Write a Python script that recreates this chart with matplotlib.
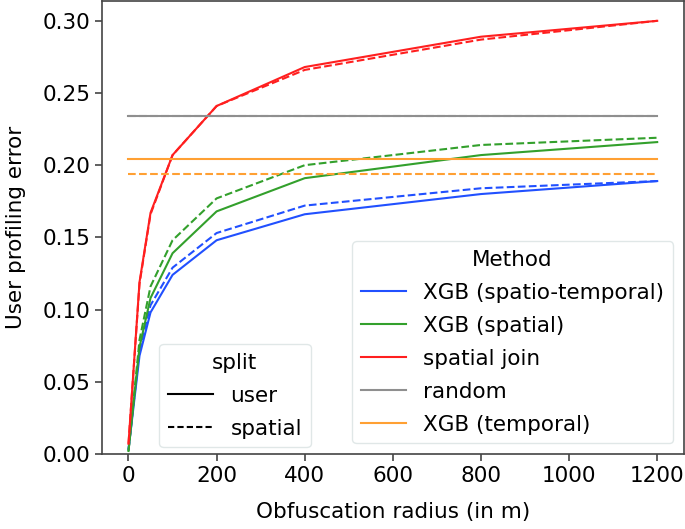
import numpy as np
import matplotlib
matplotlib.use("Agg")
import matplotlib.pyplot as plt
from matplotlib.lines import Line2D

BLUE = "#2150ff"; GREEN = "#33a02c"; RED = "#ff1f1f"; GREY = "#8f8f8f"; ORANGE = "#ffa033"

radius = [0, 25, 50, 100, 200, 400, 800, 1200]

# user split (solid) / spatial split (dashed)
xgb_st_user = [0.003, 0.068, 0.098, 0.124, 0.148, 0.166, 0.180, 0.189]
xgb_st_spatial = [0.003, 0.072, 0.103, 0.129, 0.153, 0.172, 0.184, 0.189]
xgb_sp_user = [0.002, 0.074, 0.108, 0.139, 0.168, 0.191, 0.207, 0.216]
xgb_sp_spatial = [0.002, 0.079, 0.116, 0.148, 0.177, 0.200, 0.214, 0.219]
sjoin_user = [0.007, 0.119, 0.167, 0.207, 0.241, 0.268, 0.289, 0.300]
sjoin_spatial = [0.007, 0.118, 0.166, 0.207, 0.241, 0.266, 0.287, 0.300]
random_user = [0.234] * 8
random_spatial = [0.234] * 8
xgb_t_user = [0.2045] * 8
xgb_t_spatial = [0.194] * 8

methods = ["XGB (spatio-temporal)", "XGB (spatial)", "spatial join", "random", "XGB (temporal)"]
colors = [BLUE, GREEN, RED, GREY, ORANGE]
user_vals = [xgb_st_user, xgb_sp_user, sjoin_user, random_user, xgb_t_user]
spatial_vals = [xgb_st_spatial, xgb_sp_spatial, sjoin_spatial, random_spatial, xgb_t_spatial]

FS = 15.5
plt.rcParams["font.family"] = "DejaVu Sans"
plt.rcParams["font.size"] = FS

fig, ax = plt.subplots(figsize=(6.85, 5.29), dpi=100)
fig.subplots_adjust(left=0.149, right=0.998, bottom=0.142, top=0.998)

for name, c, uv, sv in zip(methods, colors, user_vals, spatial_vals):
    ax.plot(radius, uv, color=c, lw=1.5, ls="-")
    ax.plot(radius, sv, color=c, lw=1.5, ls="--")

ax.set_xlim(-60, 1260)
ax.set_ylim(0, 0.3137)
ax.set_xticks([0, 200, 400, 600, 800, 1000, 1200])
ax.set_yticks(np.arange(0, 0.31, 0.05))
ax.yaxis.set_major_formatter(matplotlib.ticker.FormatStrFormatter("%.2f"))
ax.tick_params(labelsize=FS, width=1.2, length=5, color="#444444")
for s in ax.spines.values():
    s.set_linewidth(1.2); s.set_color("#444444")
ax.set_xlabel("Obfuscation radius (in m)", fontsize=FS, labelpad=12)
ax.set_ylabel("User profiling error", fontsize=FS, labelpad=12)

h_meth = [Line2D([], [], color=c, lw=1.5) for c in colors]
leg1 = ax.legend(h_meth, methods, title="Method", loc="lower right", fontsize=FS,
                 title_fontsize=FS, handlelength=2.1, labelspacing=0.6,
                 framealpha=0.9, edgecolor="#dde5e5")
ax.add_artist(leg1)
h_split = [Line2D([], [], color="black", lw=1.5, ls="-"),
           Line2D([], [], color="black", lw=1.5, ls=(0, (3, 1.5)))]
ax.legend(h_split, ["user", "spatial"], title="split", loc="lower left",
          bbox_to_anchor=(0.0985, 0.0148), borderaxespad=0, fontsize=FS,
          title_fontsize=FS, handlelength=2.1, labelspacing=0.6,
          framealpha=0.9, edgecolor="#dde5e5")

fig.savefig("out.png", dpi=100)
